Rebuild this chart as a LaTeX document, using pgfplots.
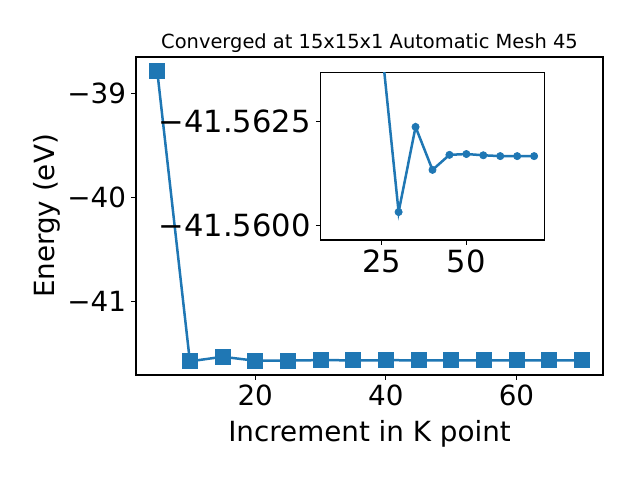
\documentclass[border=0pt]{standalone}
\usepackage{fontspec}
\setmainfont{DejaVu Sans}
\usepackage{pgfplots}
\pgfplotsset{compat=1.18}
\definecolor{c0}{HTML}{1F77B4}
\pgfplotstableread{
x y
5 -38.786
10 -41.572
15 -41.528
20 -41.566
25 -41.5643
30 -41.56033
35 -41.56237
40 -41.56134
45 -41.56170
50 -41.56172
55 -41.56169
60 -41.56167
65 -41.56167
70 -41.56167
}\maindata
\pgfplotstableread{
x y
25 -41.5643
30 -41.56033
35 -41.56237
40 -41.56134
45 -41.56170
50 -41.56172
55 -41.56169
60 -41.56167
65 -41.56167
70 -41.56167
}\insetdata
\begin{document}
\begin{tikzpicture}
\useasboundingbox (0,0) rectangle (460.8pt,345.6pt);
\pgfplotsset{
  mystyle/.style={
    scale only axis, anchor=south west,
    tick align=outside, major tick length=3.5pt,
    tick style={black, line width=0.8pt},
    axis line style={line width=0.8pt},
    every axis/.append style={line width=0.8pt},
    ticklabel style={font=\fontsize{20}{24}\selectfont},
    xtick pos=bottom, ytick pos=left,
  }
}
\begin{axis}[mystyle,
  at={(97.92pt,75.6pt)}, width=336.24pt, height=228.96pt,
  xmin=1.75, xmax=73.25, ymin=-41.703, ymax=-38.652,
  xtick={20,40,60}, xticklabels={20,40,60},
  ytick={-41,-40,-39}, yticklabels={−41,−40,−39},
  title={Converged at 15x15x1 Automatic Mesh 45},
  title style={font=\fontsize{14}{17}\selectfont, at={(axis description cs:0.5,1.0)}, anchor=base},
  xlabel={Increment in K point},
  xlabel style={font=\fontsize{20}{24}\selectfont, at={(axis description cs:0.5,-0.21)}, anchor=base},
  ylabel={Energy (eV)},
  ylabel style={font=\fontsize{20}{24}\selectfont, at={(axis description cs:-0.174,0.5)}, anchor=base},
]
\addplot[c0, line width=1.8pt, mark=square*, mark size=5.4pt, mark options={fill=c0, draw=c0, line width=0.5pt}] table[x=x,y=y] {\maindata};
\end{axis}
\begin{axis}[mystyle,
  at={(230.9pt,172.8pt)}, width=161pt, height=120.5pt,
  axis background/.style={fill=white},
  ticklabel style={font=\fontsize{22}{26}\selectfont},
  xmin=7, xmax=73, ymin=-41.56367, ymax=-41.55966, y dir=reverse,
  xtick={25,50}, xticklabels={25,50},
  ytick={-41.5625,-41.56}, yticklabels={−41.5625,−41.5600},
]
\addplot[c0, line width=1.8pt, mark=*, mark size=2.6pt, mark options={fill=c0, draw=c0, line width=0.5pt}] table[x=x,y=y] {\insetdata};
\end{axis}
\end{tikzpicture}
\end{document}
